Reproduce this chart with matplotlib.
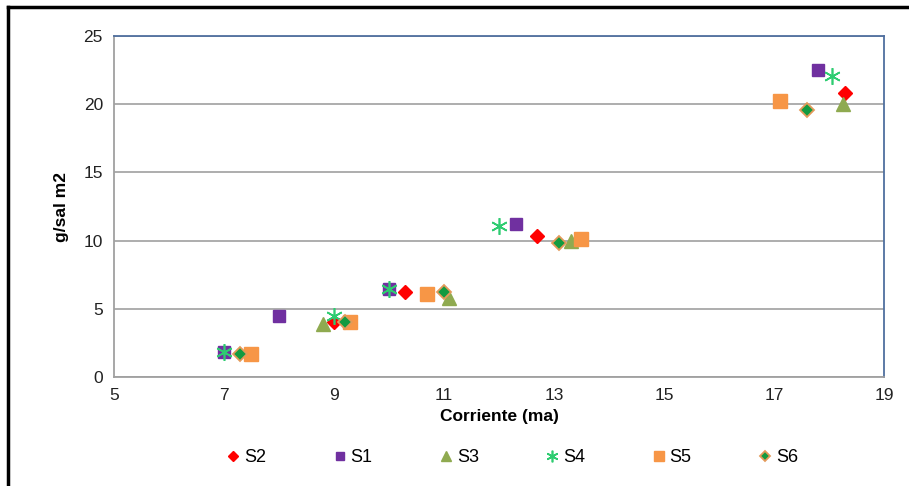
import matplotlib.pyplot as plt
from matplotlib.lines import Line2D

plt.rcParams['font.family'] = ['Liberation Sans', 'DejaVu Sans']

# datos
s2_x = [9.0, 10.3, 12.7, 18.3]
s2_y = [4.0, 6.2, 10.35, 20.8]
s1_x = [7.0, 8.0, 10.0, 12.3, 17.8]
s1_y = [1.8, 4.5, 6.45, 11.2, 22.5]
s3_x = [8.8, 11.1, 13.3, 18.25]
s3_y = [3.9, 5.8, 10.0, 20.0]
s4_x = [7.0, 9.0, 10.0, 12.0, 18.05]
s4_y = [1.8, 4.5, 6.45, 11.05, 22.1]
s5_x = [7.5, 9.3, 10.7, 13.5, 17.1]
s5_y = [1.7, 4.0, 6.1, 10.15, 20.2]
s6_x = [7.3, 9.2, 11.0, 13.1, 17.6]
s6_y = [1.7, 4.0, 6.2, 9.8, 19.6]

fig = plt.figure(figsize=(9.09, 4.86), dpi=100)
ax = fig.add_axes([114/909, 1-377/486, 770/909, 341/486])

ax.plot(s2_x, s2_y, 'D', color='#ff0000', ms=7, mec='#ff0000', label='S2', zorder=3)
ax.plot(s1_x, s1_y, 's', color='#7030a0', ms=9, mec='#7030a0', label='S1', zorder=3)
ax.plot(s3_x, s3_y, '^', color='#8faa50', ms=10, mec='#8faa50', label='S3', zorder=3)
ax.plot(s4_x, s4_y, linestyle='none', marker=(6, 2, 0), color='#2ecc71', ms=12, mew=1.2,
        label='S4', zorder=4)
ax.plot(s5_x, s5_y, 's', color='#f79646', ms=10, mec='#f79646', label='S5', zorder=3)
ax.plot(s6_x, s6_y, 'D', color='#129a40', ms=7.5, mec='#e39a5a', mew=1.3, label='S6', zorder=5)

ax.set_xlim(5, 19)
ax.set_ylim(0, 25)
ax.set_xticks([5, 7, 9, 11, 13, 15, 17, 19])
ax.set_yticks([0, 5, 10, 15, 20, 25])
ax.tick_params(length=0, labelsize=12.5, colors='#222222', pad=8)
ax.yaxis.grid(True, color='#a0a0a0', linewidth=1.2)
ax.set_axisbelow(True)
ax.spines['left'].set_color('#a0a0a0')
ax.spines['bottom'].set_color('#a0a0a0')
ax.spines['top'].set_color('#4f6f9f')
ax.spines['right'].set_color('#4f6f9f')
for s in ax.spines.values():
    s.set_linewidth(1.3)

ax.set_xlabel('Corriente (ma)', fontsize=12.5, fontweight='bold', labelpad=4)
ax.set_ylabel('g/sal m2', fontsize=12.5, fontweight='bold', labelpad=10)

ax.legend(loc='upper center', bbox_to_anchor=(0.517, -0.163), ncol=6, frameon=False,
          fontsize=13, handlelength=0.8, handletextpad=0.2, columnspacing=3.67,
          markerscale=0.7)

# borde exterior (solo arriba e izquierda visibles)
fig.add_artist(Line2D([8/909, 8/909], [0, 1-7/486], color='black', lw=2.5))
fig.add_artist(Line2D([8/909, 1], [1-7/486, 1-7/486], color='black', lw=2.5))

fig.savefig('out.png', dpi=100)
